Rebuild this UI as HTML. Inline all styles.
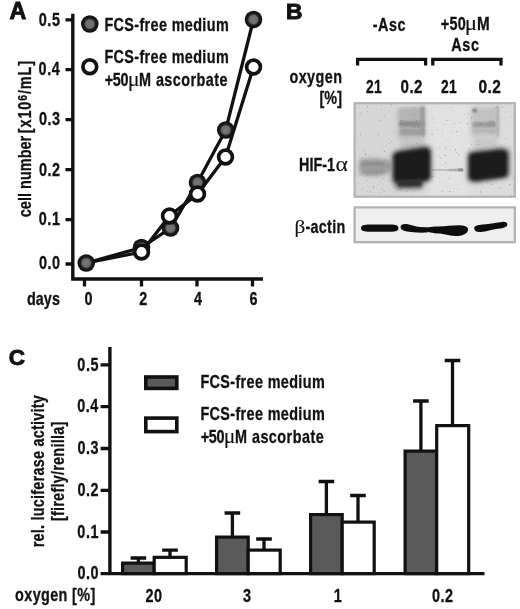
<!DOCTYPE html>
<html>
<head>
<meta charset="utf-8">
<title>Figure</title>
<style>
html,body{margin:0;padding:0;background:#fff;}
body{width:520px;height:609px;overflow:hidden;}
svg{display:block;}
text{font-family:"Liberation Sans",sans-serif;font-weight:bold;font-size:18px;fill:#111;stroke:#111;stroke-width:0.3px;}
.sym{font-family:"Liberation Serif","DejaVu Serif",serif;font-weight:normal;stroke-width:0.1px;}
.ln{stroke:#111;stroke-width:3.3;fill:none;}
.ax{stroke:#111;stroke-width:3.4;fill:none;}
.fc{fill:url(#gf);stroke:none;}
.oc{fill:#fff;stroke:#111;stroke-width:3.7;}
.pl{stroke:#111;stroke-width:0.9px;stroke-linejoin:miter;}
.db{fill:#5a5a5a;stroke:#111;stroke-width:3.2;}
.wb{fill:#fff;stroke:#111;stroke-width:3.2;}
</style>
</head>
<body>
<svg width="520" height="609" viewBox="0 0 520 609">
<defs>
<radialGradient id="gf"><stop offset="0" stop-color="#787878"/><stop offset="0.46" stop-color="#6c6c6c"/><stop offset="0.66" stop-color="#1c1c1c"/><stop offset="1" stop-color="#101010"/></radialGradient>
<filter id="b1" x="-30%" y="-30%" width="160%" height="160%"><feGaussianBlur stdDeviation="1"/></filter>
<filter id="b15" x="-30%" y="-30%" width="160%" height="160%"><feGaussianBlur stdDeviation="1.4"/></filter>
<filter id="b2" x="-30%" y="-30%" width="160%" height="160%"><feGaussianBlur stdDeviation="2"/></filter>
<filter id="b3" x="-30%" y="-30%" width="160%" height="160%"><feGaussianBlur stdDeviation="3"/></filter>
<filter id="b07" x="-30%" y="-30%" width="160%" height="160%"><feGaussianBlur stdDeviation="0.7"/></filter>
<filter id="noise" x="0" y="0" width="100%" height="100%"><feTurbulence type="fractalNoise" baseFrequency="0.45" numOctaves="2" seed="7" result="t"/><feColorMatrix in="t" type="matrix" values="0 0 0 0 0  0 0 0 0 0  0 0 0 0 0  0 0 0 7 -4.95"/><feGaussianBlur stdDeviation="0.45"/></filter>
<clipPath id="c1"><rect x="355" y="104" width="158.5" height="92.5"/></clipPath>
<clipPath id="c2"><rect x="355.7" y="208.5" width="158" height="32.6"/></clipPath>
</defs>
<rect x="0" y="0" width="520" height="609" fill="#fff"/>
<g id="panelA">
<text transform="translate(9.60 19.00) scale(1.0095 1)" style="font-size:23px" class="pl">A</text>
<path class="ax" d="M72.8 13.7V279M71.1 279H263"/>
<path class="ln" d="M65.5 19.8H72.5M65.5 69.6H72.5M65.5 119.6H72.5M65.5 169.7H72.5M65.5 219.6H72.5M65.5 264H72.5"/>
<path class="ln" d="M84.5 279V286.5M141.5 279V286.5M197 279V286.5M252.5 279V286.5"/>
<text transform="translate(38.78 25.60) scale(0.8000 1)" letter-spacing="0.700">0.5</text>
<text transform="translate(38.58 75.40) scale(0.8000 1)" letter-spacing="0.700">0.4</text>
<text transform="translate(38.98 125.40) scale(0.8000 1)" letter-spacing="0.700">0.3</text>
<text transform="translate(38.98 175.50) scale(0.8000 1)" letter-spacing="0.700">0.2</text>
<text transform="translate(38.78 225.40) scale(0.8000 1)" letter-spacing="0.700">0.1</text>
<text transform="translate(38.98 269.30) scale(0.8000 1)" letter-spacing="0.700">0.0</text>
<text transform="translate(26.90 304.60) scale(0.8000 1)" letter-spacing="0.083">days</text>
<text transform="translate(84.50 304.80) scale(0.8000 1)">0</text>
<text transform="translate(139.30 304.80) scale(0.8000 1)">2</text>
<text transform="translate(194.00 304.80) scale(0.8000 1)">4</text>
<text transform="translate(249.50 304.80) scale(0.8000 1)">6</text>
<text transform="translate(31.2 217.20) rotate(-90) scale(0.8000 1)" letter-spacing="0.075">cell number</text>
<text transform="translate(31.2 133.20) rotate(-90) scale(0.8000 1)" letter-spacing="1.125">[x10<tspan style="font-size:13px" dy="-3.8">6</tspan><tspan dy="3.8">/mL]</tspan></text>
<circle class="fc" cx="89.8" cy="24" r="8.8"/>
<circle class="oc" cx="89.8" cy="66.8" r="6.9"/>
<text transform="translate(104.40 30.70) scale(0.8000 1)" letter-spacing="0.464">FCS-free medium</text>
<text transform="translate(104.40 62.50) scale(0.8000 1)" letter-spacing="0.464">FCS-free medium</text>
<text transform="translate(104.80 85.60) scale(0.8000 1)" letter-spacing="-0.438">+50</text>
<text transform="translate(127.74 85.60) scale(1.1059 1)" style="font-size:20px"><tspan class="sym">μ</tspan></text>
<text transform="translate(139.00 85.60) scale(0.8000 1)" letter-spacing="0.575">M ascorbate</text>
<polyline class="ln" points="86.25,263 141.5,247.5 170.5,228 197.5,182.5 225.75,130 253.5,19.5"/>
<circle class="fc" cx="141.5" cy="247.5" r="8.8"/>
<circle class="fc" cx="170.5" cy="228" r="8.8"/>
<circle class="fc" cx="197.5" cy="182.5" r="8.8"/>
<circle class="fc" cx="225.75" cy="130" r="8.8"/>
<circle class="fc" cx="253.5" cy="19.5" r="8.8"/>
<polyline class="ln" points="86.25,263 141.5,252 169.5,216 197.5,194 225.5,157 253.5,67"/>
<circle class="oc" cx="141.5" cy="252" r="6.9"/>
<circle class="oc" cx="169.5" cy="216" r="6.9"/>
<circle class="oc" cx="197.5" cy="194" r="6.9"/>
<circle class="oc" cx="225.5" cy="157" r="6.9"/>
<circle class="oc" cx="253.5" cy="67" r="6.9"/>
<circle class="fc" cx="86.25" cy="263" r="8.8"/>
</g>
<g id="panelB">
<text transform="translate(285.93 18.50) scale(1.0143 1)" style="font-size:22.5px" class="pl">B</text>
<text transform="translate(372.70 31.20) scale(0.8000 1)" letter-spacing="0.625">-Asc</text>
<text transform="translate(440.80 30.20) scale(0.8000 1)" letter-spacing="0.375">+50</text>
<text transform="translate(464.87 30.20) scale(1.1529 1)" style="font-size:20px"><tspan class="sym">μ</tspan></text>
<text transform="translate(476.95 30.20) scale(0.8462 1)">M</text>
<text transform="translate(451.30 51.10) scale(0.8000 1)" letter-spacing="0.750">Asc</text>
<path class="ln" d="M357.6 65.5V59.4H425.6V65.5M432.8 65.5V59.4H501V65.5"/>
<text transform="translate(289.40 82.60) scale(0.8000 1)" letter-spacing="0.550">oxygen</text>
<text transform="translate(319.40 104.00) scale(0.8000 1)" letter-spacing="0.125">[%]</text>
<text transform="translate(365.92 92.70) scale(0.7646 1)" letter-spacing="0.500">21</text>
<text transform="translate(400.58 92.70) scale(0.8400 1)" letter-spacing="0.500">0.2</text>
<text transform="translate(441.02 92.70) scale(0.7696 1)" letter-spacing="0.500">21</text>
<text transform="translate(478.57 92.70) scale(0.8600 1)" letter-spacing="0.500">0.2</text>
<text transform="translate(299.00 171.20) scale(0.8000 1)">HIF-1</text>
<text transform="translate(335.61 171.20) scale(1.1892 1)" style="font-size:20px"><tspan class="sym">α</tspan></text>
<text transform="translate(294.60 233.20) scale(1.1226 1)" style="font-size:19px"><tspan class="sym">β</tspan></text>
<text transform="translate(305.40 233.20) scale(0.8000 1)" letter-spacing="0.375">-actin</text>
<rect x="354.5" y="103.2" width="160.3" height="93.5" fill="#dcdcdc"/>
<g clip-path="url(#c1)">
<rect x="354" y="103" width="45" height="95" fill="#d6d6d6" filter="url(#b3)"/>
<rect x="430" y="103" width="40" height="95" fill="#e2e2e2" filter="url(#b3)"/>
<!-- lane 2 smear -->
<rect x="398" y="107.5" width="27" height="32" rx="3" fill="#b4b4b4" filter="url(#b2)"/>
<rect x="399" y="121" width="25.5" height="6" rx="2" fill="#909090" filter="url(#b1)"/>
<rect x="400" y="129" width="24.5" height="6" rx="2" fill="#9c9c9c" filter="url(#b1)"/>
<rect x="400" y="109" width="22" height="9" rx="2" fill="#b4b4b4" filter="url(#b2)"/>
<rect x="420.5" y="106" width="4" height="30" rx="2" fill="#9a9a9a" filter="url(#b1)"/>
<rect x="400" y="138" width="24" height="12" fill="#c4c4c4" filter="url(#b2)"/>
<!-- lane 4 smear -->
<rect x="471" y="107" width="27.5" height="30" rx="3" fill="#c2c2c2" filter="url(#b2)"/>
<rect x="472.5" y="122" width="24" height="5.5" rx="2" fill="#9c9c9c" filter="url(#b1)"/>
<rect x="473" y="129" width="23" height="4" rx="2" fill="#b6b6b6" filter="url(#b1)"/>
<rect x="472.5" y="108.5" width="4.5" height="4" rx="2" fill="#7a7a7a" filter="url(#b1)"/>
<rect x="488" y="121" width="7" height="5" rx="2" fill="#999" filter="url(#b1)"/>
<rect x="496" y="105" width="3" height="32" rx="1.5" fill="#b2b2b2" filter="url(#b1)"/>
<rect x="474" y="137" width="24" height="12" fill="#cacaca" filter="url(#b2)"/>
<!-- lane 1 weak band -->
<path d="M359.5 159.500L376 158.500L391 161L391 172.500L376 176L360 175Z" fill="#a4a4a4" filter="url(#b2)"/>
<path d="M360.5 161L376 160L390 162.500L390 171L376 174.500L361 173.500Z" fill="#a0a0a0" filter="url(#b2)"/>
<rect x="361" y="162" width="24" height="4" rx="2" fill="#8e8e8e" filter="url(#b1)"/>
<rect x="363" y="169.5" width="22" height="3.5" rx="1.7" fill="#969696" filter="url(#b1)"/>
<!-- lane 3 thin band -->
<rect x="432" y="169" width="31" height="2" fill="#c0c0c0" filter="url(#b07)"/>
<rect x="448" y="168.8" width="15" height="2.4" rx="1" fill="#b0b0b0" filter="url(#b07)"/>
<rect x="457.5" y="168.3" width="6" height="3.2" rx="1.5" fill="#969696" filter="url(#b07)"/>
<!-- strong band lane 2 -->
<path d="M391.5 156Q392 150.5 400 149.5L425 145.5Q432 145.5 432 152L432 177Q431.5 182 425 182.5L422 189L397 189.5L394 184Q391.5 182 391.5 177Z" fill="#6a6a6a" filter="url(#b2)"/>
<path d="M394 156.500Q394.5 153 400 152L424 148.500Q429.5 148.5 429.5 153L429.5 176Q429.5 180 424 180.500L400 182.500Q394 182.5 394 178Z" fill="#1c1c1c" filter="url(#b15)"/>
<path d="M397 180L422 179L421 186L398.5 186.500Z" fill="#333" filter="url(#b1)"/>
<!-- strong band lane 4 -->
<path d="M467 155Q467.5 151 474 150.500L501 147.500Q509.5 147.5 510 153L510 173.500Q509.5 178.5 503 179L476 183Q467.5 183 467 178Z" fill="#6a6a6a" filter="url(#b2)"/>
<path d="M469.5 156.500Q470 153.5 475.5 153L500 150.200Q507 150.2 507 154.500L507 172.500Q507 176.5 501 177L477 180.200Q469.5 180.5 469.5 176.500Z" fill="#1c1c1c" filter="url(#b15)"/>
<rect x="355" y="104" width="159" height="92" fill="#000" filter="url(#noise)" opacity="0.24"/>
</g>
<rect x="354.6" y="103.2" width="160.2" height="93.5" fill="none" stroke="#b2b2b2" stroke-width="2.2"/>
<!-- actin -->
<rect x="354.6" y="207.4" width="160.2" height="34.8" fill="#efefef" stroke="#b0b0b0" stroke-width="2.2"/>
<g clip-path="url(#c2)" filter="url(#b07)">
<path d="M361 228.200C361 225.2 364 224.7 370 224.600L390 224.600C396 224.7 398.4 225.5 398.4 228.200C398.4 231 396 231.6 390 231.700L370 231.700C364 231.6 361 231 361 228.200Z" fill="#0e0e0e"/>
<path d="M400.6 227.200C400.6 224 404 223.6 408 224.300C412 225 415 226.6 420 227L427.5 227.300L427.5 232.500C422 232.8 416 232.6 411 232C405 231.3 400.6 230.5 400.6 227.200Z" fill="#0e0e0e"/>
<path d="M425.5 229.400C425.5 227 430 226.6 438 226.400C446 226.2 452 225.2 458 225.200C464 225.2 468 226.3 468 229.500C468 233 464 235.3 458 236C452 236.5 446 234.5 440 233.600C433 232.8 425.5 232.5 425.5 229.400Z" fill="#0e0e0e"/>
<path d="M474.2 228.600C474 225.8 477 225.2 483 224.600C490 223.9 497 222.3 502 221.900C506 221.6 507.3 222.8 507.3 224.800C507.3 227.2 504 228 498 228.800C492 229.6 486 231.6 481 232C477 232.3 474.4 231.4 474.2 228.600Z" fill="#0e0e0e"/>
</g>
</g>
<g id="panelC">
<text transform="translate(8.85 365.10) scale(1.0000 1)" style="font-size:22.5px" class="pl">C</text>
<path class="ax" d="M109.9 347V573.6"/>
<path class="ln" d="M100.6 364.8H109M100.6 406.6H109M100.6 448.5H109M100.6 490.3H109M100.6 532H109M100.6 573.6H109"/>
<text transform="translate(77.36 370.60) scale(0.8000 1)" letter-spacing="0.650">0.5</text>
<text transform="translate(77.16 412.40) scale(0.8000 1)" letter-spacing="0.650">0.4</text>
<text transform="translate(77.56 454.30) scale(0.8000 1)" letter-spacing="0.650">0.3</text>
<text transform="translate(77.56 496.10) scale(0.8000 1)" letter-spacing="0.650">0.2</text>
<text transform="translate(77.36 537.80) scale(0.8000 1)" letter-spacing="0.650">0.1</text>
<text transform="translate(77.56 578.80) scale(0.8000 1)" letter-spacing="0.650">0.0</text>
<text transform="translate(44.2 547.30) rotate(-90) scale(0.8000 1)" letter-spacing="0.310">rel. luciferase activity</text>
<text transform="translate(63.5 521.10) rotate(-90) scale(0.8000 1)" letter-spacing="0.328">[firefly/renilla]</text>
<text transform="translate(15.10 600.60) scale(0.8000 1)" letter-spacing="0.472">oxygen [%]</text>
<text transform="translate(145.56 602.20) scale(0.8000 1)" letter-spacing="0.600">20</text>
<text transform="translate(243.10 602.20) scale(0.8000 1)">3</text>
<text transform="translate(333.70 602.20) scale(0.8000 1)">1</text>
<text transform="translate(432.02 602.20) scale(0.8000 1)" letter-spacing="0.600">0.2</text>
<rect class="db" x="145.8" y="377" width="31" height="11.4" style="stroke-width:3.6"/>
<rect class="wb" x="145.8" y="418.1" width="31" height="13.5" style="stroke-width:3.6"/>
<text transform="translate(200.40 388.00) scale(0.8000 1)" letter-spacing="0.464">FCS-free medium</text>
<text transform="translate(200.40 419.50) scale(0.8000 1)" letter-spacing="0.464">FCS-free medium</text>
<text transform="translate(200.80 443.40) scale(0.8000 1)" letter-spacing="-0.437">+50</text>
<text transform="translate(223.78 443.40) scale(1.0824 1)" style="font-size:20px"><tspan class="sym">μ</tspan></text>
<text transform="translate(235.00 443.40) scale(0.8000 1)" letter-spacing="0.588">M ascorbate</text>
<path class="ln" d="M130.6 558H146.20000000000002M138.4 558V562.5M162.2 550.2H177.8M170 550.2V556.75M224.6 513H240.20000000000002M232.4 513V536.5M256.2 539H271.8M264 539V549.5M318.59999999999997 481.5H334.2M326.4 481.5V514M350.2 495.5H365.8M358 495.5V521.5M413.09999999999997 401H428.7M420.9 401V450.5M444.7 360.5H460.3M452.5 360.5V425"/>
<rect class="db" x="122.6" y="563.1" width="31.6" height="10.50"/>
<rect class="wb" x="154.2" y="557.35" width="32" height="16.25"/>
<rect class="db" x="216.6" y="537.1" width="31.6" height="36.50"/>
<rect class="wb" x="248.2" y="550.1" width="32" height="23.50"/>
<rect class="db" x="310.6" y="514.6" width="31.6" height="59.00"/>
<rect class="wb" x="342.2" y="522.1" width="32" height="51.50"/>
<rect class="db" x="405.1" y="451.1" width="31.6" height="122.50"/>
<rect class="wb" x="436.7" y="425.6" width="32" height="148.00"/>
<path class="ax" d="M108.2 573.6H484.5"/>
</g>
</svg>
</body>
</html>
